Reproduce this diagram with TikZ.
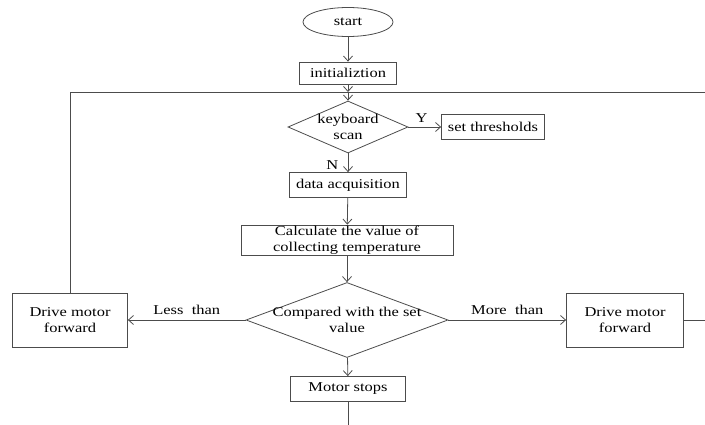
\documentclass[tikz,border=0pt]{standalone}
\usepackage{fontspec}
\setmainfont{Liberation Serif}[FakeStretch=1.22]
\usetikzlibrary{shapes.geometric,arrows.meta}

\begin{document}
\begin{tikzpicture}[x=1pt,y=-1pt,
  font=\fontsize{13.5}{16}\selectfont,
  box/.style={draw=black!70,line width=0.8pt,inner sep=0pt,minimum height=25,align=center},
  dec/.style={diamond,draw=black!70,line width=0.8pt,inner sep=0pt,aspect=1,align=center},
  arr/.style={-{Straight Barb[length=5pt,width=9pt]},draw=black!70,line width=0.8pt},
  lin/.style={draw=black!70,line width=0.8pt}
]
\clip (0,0) rectangle (705,425);

\node[ellipse,draw=black!70,line width=0.8pt,inner sep=0pt,minimum width=90,minimum height=29] (start) at (348,22) {start};
\node[box,minimum width=97,minimum height=22] (init) at (348,73) {initializtion};
\coordinate (join) at (348,92);
\node[dec,minimum width=120,minimum height=52] (kbd) at (348,127) {\makebox[0pt]{keyboard}\\\makebox[0pt]{scan}};
\node[box,minimum width=103] (thr) at (493,127) {set thresholds};
\node[box,minimum width=117] (acq) at (348,185) {data acquisition};
\node[box,minimum width=212,minimum height=30] (calc) at (347,240) {Calculate the value of\\collecting temperature};
\node[dec,minimum width=202,minimum height=75] (cmp) at (347,320) {\makebox[0pt]{Compared with the set}\\\makebox[0pt]{value}};
\node[box,minimum width=115,minimum height=54] (lft) at (70,320) {Drive motor\\forward};
\node[box,minimum width=117,minimum height=54] (rgt) at (625,320) {Drive motor\\forward};
\node[box,minimum width=115] (stop) at (348,389) {Motor stops};
\coordinate (bot) at (348,430);

\draw[arr] (start) -- (init);
\draw[arr] (init) -- (join);
\draw[arr] (join) -- (kbd);
\draw[arr] (kbd) -- node[above=1pt,pos=0.4] (ylab) {Y} (thr);
\draw[arr] (kbd) -- node[left=6pt,pos=0.6] (nlab) {N} (acq);
\draw[arr] (acq) -- (calc);
\draw[arr] (calc) -- (cmp);
\draw[arr] (cmp) -- node[above=2pt] (less) {Less~~than} (lft);
\draw[arr] (cmp) -- node[above=2pt] (more) {More~~than} (rgt);
\draw[arr] (cmp) -- (stop);
\draw[lin] (stop) -- (bot);

% loops back to the keyboard scan
\draw[lin] (lft) |- (join);
\draw[lin] (rgt.east) -- ++(40,0) |- (join);
\end{tikzpicture}
\end{document}
